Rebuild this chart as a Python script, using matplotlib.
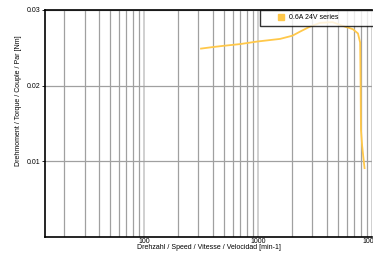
import matplotlib
matplotlib.use("Agg")
import matplotlib.pyplot as plt
from matplotlib.lines import Line2D
from matplotlib.ticker import LogLocator, FixedLocator, NullFormatter

plt.rcParams['font.family'] = ['Liberation Sans', 'DejaVu Sans']

# speed [min-1] and torque [Nm]
speed = [316, 400, 494, 700, 980, 1560, 2000, 2340, 2850, 3500, 4500,
         5810, 6800, 7530, 7870, 7950, 8000, 8200, 8400, 8600]
torque = [0.0249, 0.0251, 0.02526, 0.0255, 0.02583, 0.02618, 0.0266, 0.02715,
          0.0278, 0.0283, 0.0284, 0.0278, 0.02746, 0.0269, 0.0257, 0.0200,
          0.0142, 0.0120, 0.0105, 0.0091]
series_name = "0.6A 24V series"
y_ticks = [0.01, 0.02, 0.03]
y_tick_labels = ["0.01", "0.02", "0.03"]
x_ticks = [100, 1000, 10000]
x_tick_labels = ["100", "1000", "10000"]

fig = plt.figure(figsize=(3.73, 2.56), dpi=100)
ax = fig.add_axes([45 / 373, 19 / 256, 327 / 373, 227 / 256])

line_color = '#FFC84A'
ax.plot(speed, torque, color=line_color, lw=1.3, zorder=3)

ax.set_xscale('log')
ax.set_xlim(13.5, 10000)
ax.set_ylim(0, 0.03)

ax.xaxis.set_major_locator(FixedLocator(x_ticks))
ax.set_xticklabels(x_tick_labels)
ax.xaxis.set_minor_locator(LogLocator(base=10, subs=range(2, 10)))
ax.xaxis.set_minor_formatter(NullFormatter())
ax.set_yticks(y_ticks)
ax.set_yticklabels(y_tick_labels)

ax.grid(which='minor', axis='x', color='#a0a0a0', lw=0.9)
ax.grid(which='major', axis='x', color='#c8c8c8', lw=1.2)
ax.grid(which='major', axis='y', color='#a0a0a0', lw=0.9)
ax.set_axisbelow(True)

ax.tick_params(axis='both', which='both', labelsize=5, pad=1)
ax.tick_params(axis='x', which='both', length=0)
ax.tick_params(axis='y', length=2, width=0.6)

for s in ['top', 'bottom', 'left']:
    ax.spines[s].set_color('black')
    ax.spines[s].set_linewidth(1.2)
ax.spines['right'].set_visible(False)

ax.set_xlabel("Drehzahl / Speed / Vitesse / Velocidad [min-1]", fontsize=5, labelpad=-1)
ax.set_ylabel("Drehmoment / Torque / Couple / Par [Nm]", fontsize=5)
ax.yaxis.set_label_coords(-0.07, 0.6)

handle = Line2D([], [], marker='s', color=line_color, ls='none', markersize=4)
leg = ax.legend([handle], [series_name], loc='upper left',
                bbox_to_anchor=(0.657, 1.0, 0.36, 0.001), mode='expand',
                fontsize=5, frameon=True, fancybox=False, borderaxespad=0,
                handlelength=4.8, handletextpad=-1.2, borderpad=0.65)
leg.get_frame().set_edgecolor('black')
leg.get_frame().set_linewidth(1.0)
leg.set_zorder(5)

fig.savefig("out.png", dpi=100)
